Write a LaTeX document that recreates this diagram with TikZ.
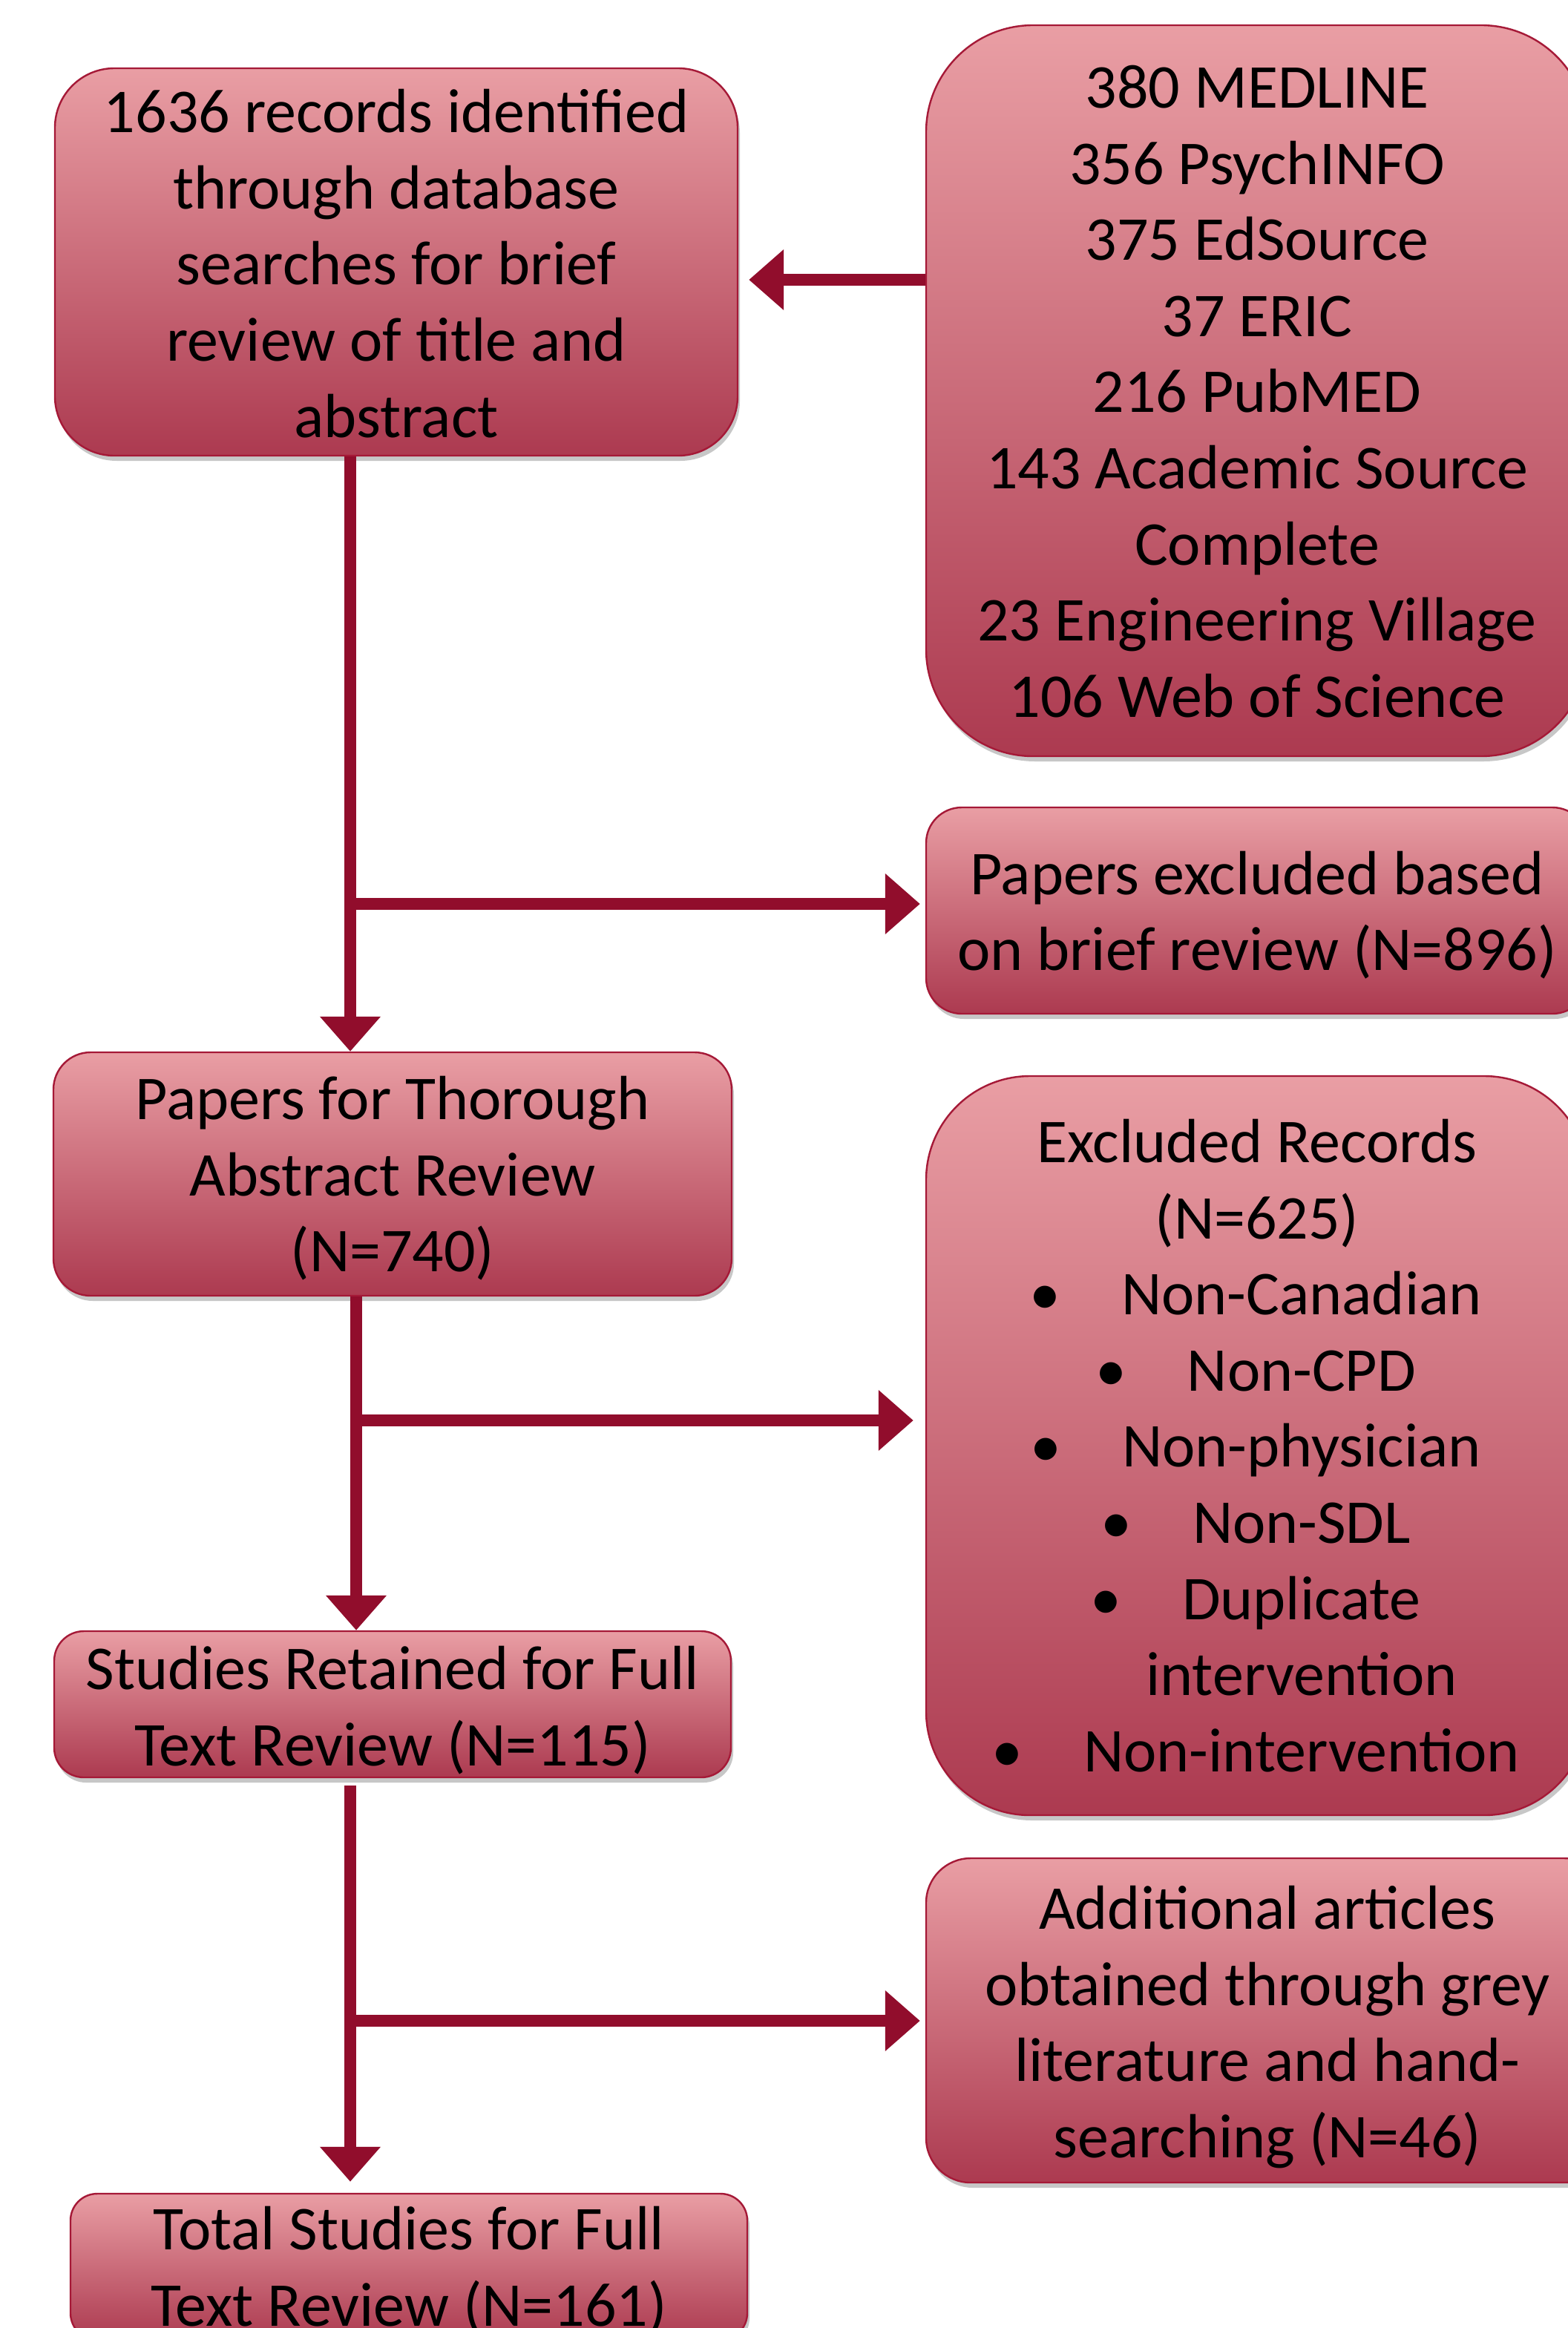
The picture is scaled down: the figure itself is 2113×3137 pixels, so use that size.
\documentclass[tikz,border=0pt]{standalone}
\usepackage{fontspec}
\setmainfont{Carlito}
\usetikzlibrary{arrows.meta,shadows,calc}
\definecolor{boxtop}{RGB}{233,158,164}
\definecolor{boxbot}{RGB}{172,58,80}
\definecolor{boxline}{RGB}{165,25,55}
\definecolor{arrowred}{RGB}{145,13,44}
\newcommand{\bl}{\hspace*{60pt}\llap{\textbullet\hspace{41pt}}}
\tikzset{
  box/.style={draw=boxline, line width=1.2pt, top color=boxtop, bottom color=boxbot,
    inner sep=0pt,
    drop shadow={shadow xshift=1.5pt, shadow yshift=-3.5pt, opacity=0.22, fill=black}},
  txt/.style={align=center, inner sep=0pt, text=black,
    font=\fontsize{42pt}{51.3pt}\selectfont},
  arr/.style={draw=arrowred, line width=8pt, -{Triangle[length=23.5pt,width=39.5pt]}}
}
\begin{document}
\begin{tikzpicture}[x=0.5pt,y=-0.5pt]
\useasboundingbox (0,0) rectangle (2113,3137);
\clip (0,0) rectangle (2113,3137);
\fill[white] (0,0) rectangle (2113,3137);

\node[box, minimum width=460pt, minimum height=261pt, rounded corners=40pt] (box1) at (534,353) {};
\node[txt] (box1t) at ($(box1.center)+(0,2)$)
  {1636 records identified\\through database\\searches for brief\\review of title and\\abstract};

\node[box, minimum width=446pt, minimum height=492.5pt, rounded corners=72pt] (dbs) at (1694,526.5) {};
\node[txt] (dbst) at ($(dbs.center)+(0,1)$)
  {380 MEDLINE\\356 PsychINFO\\375 EdSource\\37 ERIC\\216 PubMED\\143 Academic Source\\Complete\\23 Engineering Village\\106 Web of Science};

\node[box, minimum width=446pt, minimum height=139pt, rounded corners=24pt] (excl1) at (1694,1227) {};
\node[txt] (excl1t) at ($(excl1.center)+(0,6)$)
  {Papers excluded based\\on brief review (N=896)};

\node[box, minimum width=457pt, minimum height=164pt, rounded corners=25pt] (thor) at (529,1582) {};
\node[txt] (thort) at ($(thor.center)+(0,6)$)
  {Papers for Thorough\\Abstract Review\\(N=740)};

\node[box, minimum width=446pt, minimum height=498pt, rounded corners=70pt] (excl2) at (1694,1948) {};
\node[txt] (excl2t) at ($(excl2.center)+(0,0)$)
  {Excluded Records\\(N=625)\\\bl Non-Canadian\\\bl Non-CPD\\\bl Non-physician\\\bl Non-SDL\\\bl Duplicate\\\hspace*{60pt}intervention\\\bl Non-intervention};

\node[box, minimum width=456pt, minimum height=98.5pt, rounded corners=20pt] (ret) at (529,2296.5) {};
\node[txt] (rett) at ($(ret.center)+(0,8)$)
  {Studies Retained for Full\\Text Review (N=115)};

\node[box, minimum width=460pt, minimum height=218.5pt, rounded corners=30pt] (add) at (1708,2722.5) {};
\node[txt] (addt) at ($(add.center)+(0,9)$)
  {Additional articles\\obtained through grey\\literature and hand-\\searching (N=46)};

\node[box, minimum width=456pt, minimum height=98.5pt, rounded corners=18pt] (total) at (551,3054.5) {};
\node[txt] (totalt) at ($(total.center)+(0,5)$)
  {Total Studies for Full\\Text Review (N=161)};

\coordinate (j0) at (1248,377);
\coordinate (j1) at (472,1218);
\coordinate (j2) at (480,1914);
\coordinate (j3) at (472,2723);

\draw[arr, shorten >=7pt] (j0 -| dbs.west) -- (j0 -| box1.east);

\draw[arr, shorten >=3.5pt] (j1) -- (j1 -| excl1.west);
\draw[arr] (j1 |- box1.south) -- (j1 |- thor.north);

\draw[arr, shorten >=8pt] (j2) -- (j2 -| excl2.west);
\draw[arr] (j2 |- thor.south) -- (j2 |- ret.north);

\draw[arr, shorten >=3.5pt] (j3) -- (j3 -| add.west);
\draw[arr, shorten <=5pt, shorten >=7.5pt] (j3 |- ret.south) -- (j3 |- total.north);
\end{tikzpicture}
\end{document}
